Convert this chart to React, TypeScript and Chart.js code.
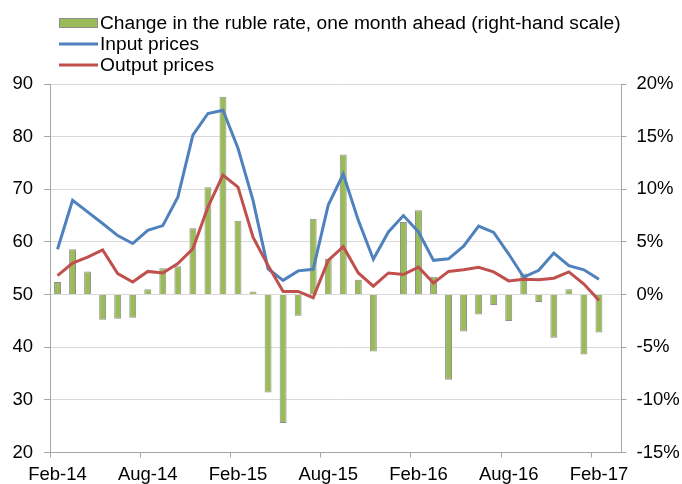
import React, { useEffect, useRef } from 'react';
import { Chart, registerables } from 'chart.js';

Chart.register(...registerables);

const months = [
  'Feb-14', 'Mar-14', 'Apr-14', 'May-14', 'Jun-14', 'Jul-14', 'Aug-14', 'Sep-14', 'Oct-14', 'Nov-14', 'Dec-14', 'Jan-15',
  'Feb-15', 'Mar-15', 'Apr-15', 'May-15', 'Jun-15', 'Jul-15', 'Aug-15', 'Sep-15', 'Oct-15', 'Nov-15', 'Dec-15', 'Jan-16',
  'Feb-16', 'Mar-16', 'Apr-16', 'May-16', 'Jun-16', 'Jul-16', 'Aug-16', 'Sep-16', 'Oct-16', 'Nov-16', 'Dec-16', 'Jan-17',
  'Feb-17', 'Mar-17',
];

// Change in the ruble rate, one month ahead (%, right-hand scale)
const rubleChange = [
  1.2, 4.3, 2.2, -2.4, -2.3, -2.2, 0.5, 2.5, 2.7, 6.3, 10.2, 18.8,
  7.0, 0.3, -9.3, -12.2, -2.0, 7.2, 3.4, 13.3, 1.4, -5.4, 0, 6.9,
  8.0, 1.7, -8.1, -3.5, -1.9, -1.0, -2.5, 2.0, -0.7, -4.1, 0.5, -5.7,
  -3.6,
];

const inputPrices = [
  58.6, 67.9, 65.7, 63.5, 61.2, 59.7, 62.2, 63.1, 68.5, 80.3, 84.4, 85.0,
  77.8, 67.9, 54.9, 52.7, 54.5, 54.8, 67.0, 72.9, 64.1, 56.7, 61.9, 65.0,
  61.9, 56.5, 56.8, 59.2, 63.0, 61.8, 57.7, 53.3, 54.6, 57.9, 55.5, 54.7,
  52.9,
];

const outputPrices = [
  53.6, 56.0, 57.1, 58.5, 54.0, 52.4, 54.4, 54.1, 55.9, 58.7, 66.6, 72.7,
  70.4, 60.9, 55.5, 50.6, 50.6, 49.4, 56.5, 59.1, 54.1, 51.6, 54.1, 53.8,
  55.2, 52.2, 54.4, 54.7, 55.2, 54.3, 52.6, 52.9, 52.8, 53.1, 54.3, 52.0,
  48.9,
];

const seriesLabels = [
  'Change in the ruble rate, one month ahead (right-hand scale)',
  'Input prices',
  'Output prices',
];

const GREEN = '#9BBB59';
const BLUE = '#4F81BD';
const RED = '#C0504D';
const AXIS = '#a6a6a6';
const GRID = '#d9d9d9';
const FONT_FAMILY = '"Liberation Sans", Arial, sans-serif';
const tickFont = { family: FONT_FAMILY, size: 18.5 };

const legendPlugin = {
  id: 'customLegend',
  afterDraw(chart: any) {
    const ctx = chart.ctx;
    ctx.save();
    ctx.font = `19.2px ${FONT_FAMILY}`;
    ctx.textBaseline = 'middle';
    ctx.textAlign = 'left';
    const rows = [23, 44, 65];
    chart.data.datasets.forEach((ds: any, i: number) => {
      const y = rows[i];
      if (ds.type === 'bar') {
        ctx.fillStyle = ds.backgroundColor;
        ctx.fillRect(59, y - 5, 39, 10);
        ctx.strokeStyle = ds.borderColor;
        ctx.lineWidth = 1;
        ctx.strokeRect(59.5, y - 4.5, 38, 9);
      } else {
        ctx.strokeStyle = ds.borderColor;
        ctx.lineWidth = 3;
        ctx.beginPath();
        ctx.moveTo(59, y);
        ctx.lineTo(98, y);
        ctx.stroke();
      }
      ctx.fillStyle = '#000';
      ctx.fillText(ds.label, 100, y + 1);
    });
    ctx.restore();
  },
};

export default function App() {
  const canvasRef = useRef<HTMLCanvasElement | null>(null);

  useEffect(() => {
    document.body.style.margin = '0';
    const canvas = canvasRef.current;
    if (!canvas) return;
    const chart = new Chart(canvas, {
      type: 'bar',
      data: {
        labels: months,
        datasets: [
          {
            type: 'bar',
            label: seriesLabels[0],
            data: rubleChange,
            yAxisID: 'y1',
            backgroundColor: GREEN,
            borderColor: '#8f8f8f',
            borderWidth: 1,
            barPercentage: 0.46,
            categoryPercentage: 1,
            order: 3,
          } as any,
          {
            type: 'line',
            label: seriesLabels[1],
            data: inputPrices,
            yAxisID: 'y',
            borderColor: BLUE,
            backgroundColor: BLUE,
            borderWidth: 3,
            pointRadius: 0,
            tension: 0,
            order: 2,
          } as any,
          {
            type: 'line',
            label: seriesLabels[2],
            data: outputPrices,
            yAxisID: 'y',
            borderColor: RED,
            backgroundColor: RED,
            borderWidth: 3,
            pointRadius: 0,
            tension: 0,
            order: 1,
          } as any,
        ],
      },
      options: {
        responsive: false,
        animation: false,
        layout: { padding: { top: 84 } },
        plugins: {
          legend: { display: false },
          tooltip: { enabled: false },
        },
        scales: {
          x: {
            type: 'category',
            offset: true,
            grid: {
              offset: true,
              drawOnChartArea: false,
              tickLength: 5,
              color: (c: any) => (c.index % 6 === 0 ? AXIS : 'rgba(0,0,0,0)'),
            },
            border: { color: AXIS },
            ticks: {
              autoSkip: false,
              maxRotation: 0,
              minRotation: 0,
              padding: 6,
              color: '#000',
              font: tickFont,
              callback: (_v: any, i: number) => (i % 6 === 0 ? months[i] : ''),
            },
            afterFit: (s: any) => {
              s.height = 31.5;
            },
          },
          y: {
            position: 'left',
            min: 20,
            max: 90,
            ticks: { stepSize: 10, padding: 11, color: '#000', font: tickFont },
            grid: { color: GRID, tickColor: AXIS, tickLength: 6 },
            border: { color: AXIS },
            afterFit: (s: any) => {
              s.width = 50;
            },
          },
          y1: {
            position: 'right',
            min: -15,
            max: 20,
            ticks: {
              stepSize: 5,
              padding: 10,
              color: '#000',
              font: tickFont,
              callback: (v: any) => `${v}%`,
            },
            grid: { drawOnChartArea: false, color: AXIS, tickLength: 5 },
            border: { color: AXIS },
            afterFit: (s: any) => {
              s.width = 60.5;
            },
          },
        },
      } as any,
      plugins: [legendPlugin],
    });
    return () => chart.destroy();
  }, []);

  return (
    <div style={{ width: 682, height: 484, position: 'relative' }}>
      <canvas ref={canvasRef} width={682} height={484} />
    </div>
  );
}
